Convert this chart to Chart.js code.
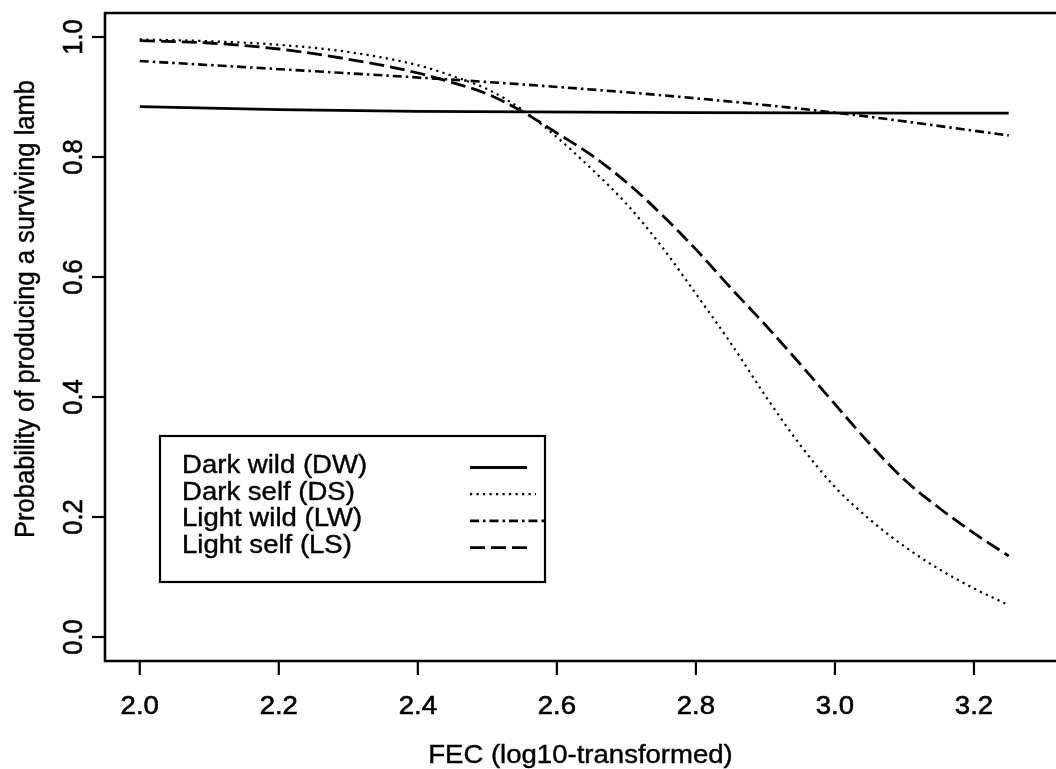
<!DOCTYPE html>
<html>
<head>
<meta charset="utf-8">
<script src="https://cdn.jsdelivr.net/npm/chart.js@4/dist/chart.umd.min.js"></script>
<style>
  html, body { margin: 0; padding: 0; background: #fff; }
  #wrap { width: 1056px; height: 769px; }
</style>
</head>
<body>
<div id="wrap"><canvas id="myChart" width="1056" height="769"></canvas></div>
<script>
// fitted survival curves, read at these FEC values
const fecDW = [2.0, 2.2, 2.4, 2.8, 3.25];
const probDW = [0.884, 0.879, 0.876, 0.874, 0.873];

const fecLW = [2.0, 2.25, 2.5, 2.75, 3.0, 3.25];
const probLW = [0.960, 0.943, 0.925, 0.903, 0.874, 0.836];

const fecSelf = [2.0, 2.1, 2.2, 2.3, 2.4, 2.45, 2.5, 2.55, 2.6, 2.65, 2.7, 2.75,
                 2.8, 2.85, 2.9, 2.95, 3.0, 3.05, 3.1, 3.15, 3.2, 3.25];
const probDS = [0.996, 0.993, 0.987, 0.975, 0.953, 0.935, 0.913, 0.879, 0.833, 0.780, 0.722, 0.652,
                0.572, 0.490, 0.402, 0.320, 0.250, 0.196, 0.151, 0.113, 0.081, 0.053];
const probLS = [0.994, 0.990, 0.980, 0.963, 0.940, 0.924, 0.905, 0.876, 0.840, 0.803, 0.758, 0.705,
                0.646, 0.582, 0.520, 0.455, 0.388, 0.322, 0.262, 0.215, 0.173, 0.135];

const xTicks = [2.0, 2.2, 2.4, 2.6, 2.8, 3.0, 3.2];
const yTicks = [0.0, 0.2, 0.4, 0.6, 0.8, 1.0];
const legendLabels = ['Dark wild (DW)', 'Dark self (DS)', 'Light wild (LW)', 'Light self (LS)'];

const FONT = '25.5px "Liberation Sans", Arial, sans-serif';
const WIDEN = 1.08;   // glyphs are a little wider than tall

function pts(xs, ys) {
    return xs.map((v, i) => ({x: v, y: ys[i]}));
}

function serie(label, xs, ys, dash, width) {
    return {
        label: label,
        data: pts(xs, ys),
        borderColor: '#000',
        borderWidth: width,
        borderDash: dash,
        borderCapStyle: 'butt',
        pointRadius: 0,
        cubicInterpolationMode: 'monotone',
        fill: false
    };
}

function text(ctx, str, x, y, rot) {
    ctx.save();
    ctx.translate(x, y);
    ctx.scale(WIDEN, 1);
    if (rot) ctx.rotate(rot);
    ctx.fillText(str, 0, 0);
    ctx.strokeText(str, 0, 0);
    ctx.restore();
}

// R-style axes, box and legend drawn from the chart scales
const rAxes = {
    id: 'rAxes',
    afterDraw(chart) {
        const ctx = chart.ctx;
        const a = chart.chartArea;
        const x = chart.scales.x;
        const y = chart.scales.y;
        ctx.save();
        ctx.strokeStyle = '#000';
        ctx.fillStyle = '#000';
        ctx.setLineDash([]);

        // plot box (right edge sits on the canvas border)
        ctx.lineWidth = 2.6;
        ctx.beginPath();
        ctx.moveTo(a.right + 5, a.top);
        ctx.lineTo(a.left, a.top);
        ctx.lineTo(a.left, a.bottom);
        ctx.lineTo(a.right + 5, a.bottom);
        ctx.stroke();

        ctx.font = FONT;
        ctx.textAlign = 'center';
        ctx.textBaseline = 'alphabetic';

        // x axis ticks
        xTicks.forEach(t => {
            const px = x.getPixelForValue(t);
            ctx.lineWidth = 2.2;
            ctx.beginPath();
            ctx.moveTo(px, a.bottom);
            ctx.lineTo(px, a.bottom + 14);
            ctx.stroke();
            ctx.lineWidth = 0.6;
            text(ctx, t.toFixed(1), px, 714);
        });

        // y axis ticks, labels turned like R
        yTicks.forEach(t => {
            const py = y.getPixelForValue(t);
            ctx.lineWidth = 2.2;
            ctx.beginPath();
            ctx.moveTo(a.left, py);
            ctx.lineTo(a.left - 13, py);
            ctx.stroke();
            ctx.lineWidth = 0.6;
            text(ctx, t.toFixed(1), 82, py, -Math.PI / 2);
        });

        // axis titles
        ctx.lineWidth = 0.4;
        text(ctx, 'FEC (log10-transformed)', (a.left + a.right) / 2, 763);
        text(ctx, 'Probability of producing a surviving lamb', 34, 309, -Math.PI / 2);

        // legend
        ctx.lineWidth = 2.2;
        ctx.strokeRect(160, 436, 385, 146);
        ctx.textAlign = 'left';
        const ends = [527, 536, 547, 530];
        chart.data.datasets.forEach((ds, i) => {
            const base = 473 + i * 26.7;
            ctx.lineWidth = 0.4;
            text(ctx, legendLabels[i], 182, base);
            ctx.save();
            ctx.lineWidth = ds.borderWidth;
            ctx.setLineDash(ds.borderDash);
            ctx.beginPath();
            ctx.moveTo(470, base - 5.5);
            ctx.lineTo(ends[i], base - 5.5);
            ctx.stroke();
            ctx.restore();
        });
        ctx.restore();
    }
};

const ctx = document.getElementById('myChart').getContext('2d');

const myChart = new Chart(ctx, {
    type: 'line',
    data: {
        datasets: [
            serie(legendLabels[0], fecDW, probDW, [], 2.8),
            serie(legendLabels[1], fecSelf, probDS, [2.2, 4.3], 2.2),
            serie(legendLabels[2], fecLW, probLW, [9, 4, 2.5, 4], 2.6),
            serie(legendLabels[3], fecSelf, probLS, [15, 6], 2.8)
        ]
    },
    options: {
        responsive: false,
        animation: false,
        layout: {padding: {left: 105, top: 13, right: 0, bottom: 108}},
        plugins: {
            legend: {display: false},
            tooltip: {enabled: false}
        },
        scales: {
            x: {type: 'linear', min: 1.95, max: 3.318, display: false},
            y: {type: 'linear', min: -0.04, max: 1.04, display: false}
        }
    },
    plugins: [rAxes]
});
</script>
</body>
</html>
